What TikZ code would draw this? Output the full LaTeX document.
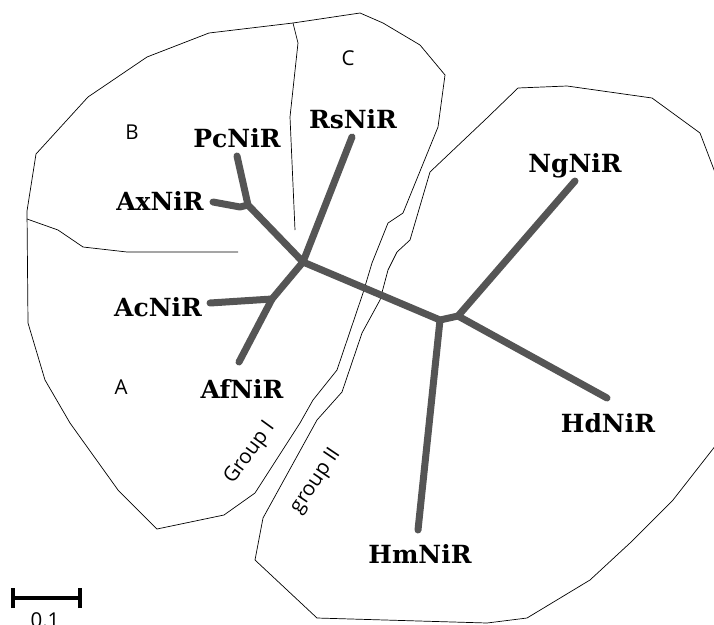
\documentclass[tikz,border=0pt]{standalone}
\usepackage{fontspec}
\newfontfamily\leaffont{DejaVu Serif}
\newfontfamily\zonefont{Open Sans}
\definecolor{tube}{RGB}{85,85,85}

\begin{document}
\begin{tikzpicture}[x=1pt, y=-1pt, line join=round,
    region/.style={line width=0.7pt},
    branch/.style={draw=tube, line width=7pt, line cap=round},
    leaf/.style={font=\leaffont\bfseries\fontsize{25}{25}\selectfont, inner sep=0pt, anchor=base},
    zone/.style={font=\zonefont\fontsize{20.5}{20.5}\selectfont, inner sep=0pt}]
    \useasboundingbox (0,0) rectangle (714,624);

    % group I and its parts
    \draw[region] (209,33) -- (147,57) -- (88,97) -- (36,154) -- (27,211) -- (28,323)
        -- (45,380) -- (70,423) -- (118,490) -- (157,529) -- (224,515) -- (255,493)
        -- (300,423) -- (313,400) -- (337,370) -- (363,293) -- (372,263) -- (388,223)
        -- (403,213) -- (438,127) -- (445,75) -- (420,45) -- (383,23) -- (360,13)
        -- (293,23) -- cycle;
    \draw[region] (293,23) -- (298,43) -- (290,117) -- (295,230);
    \draw[region] (27,219) -- (58,230) -- (83,247) -- (127,252) -- (238,252);

    % group II
    \draw[region] (518,88) -- (567,86) -- (652,98) -- (700,133) -- (716,175) -- (745,300)
        -- (716,445) -- (673,500) -- (630,543) -- (590,580) -- (527,618) -- (487,623)
        -- (317,618) -- (255,560) -- (263,518) -- (317,420) -- (342,392) -- (362,333)
        -- (380,300) -- (388,270) -- (397,252) -- (410,240) -- (430,172) -- (487,118)
        -- cycle;

    % tree
    \coordinate (root) at (303,262);
    \coordinate (pcax) at (248,205);
    \coordinate (acaf) at (272,299);
    \coordinate (hub) at (440,320);
    \coordinate (hubr) at (458,316);
    \coordinate (pc) at (237,156);
    \coordinate (ax) at (213,202);
    \coordinate (rs) at (352,137);
    \coordinate (ac) at (210,303);
    \coordinate (af) at (239,362);
    \coordinate (ng) at (575,181);
    \coordinate (hd) at (607,398);
    \coordinate (hm) at (418,530);
    \draw[branch] (pc) -- (pcax) -- (root) -- (rs);
    \draw[branch] (ax) -- (240,207) -- (pcax);
    \draw[branch] (root) -- (acaf) -- (af);
    \draw[branch] (ac) -- (acaf);
    \draw[branch] (root) -- (hub) -- (hubr) -- (ng);
    \draw[branch] (hubr) -- (hd);
    \draw[branch] (hub) -- (hm);

    \node[leaf] (pcl) at (237,147) {PcNiR};
    \node[leaf] (axl) at (160,210) {AxNiR};
    \node[leaf] (rsl) at (353,128) {RsNiR};
    \node[leaf] (acl) at (158,316) {AcNiR};
    \node[leaf] (afl) at (242,398) {AfNiR};
    \node[leaf] (ngl) at (575,172) {NgNiR};
    \node[leaf] (hdl) at (608,432) {HdNiR};
    \node[leaf] (hml) at (420,563) {HmNiR};

    \node[zone] (za) at (121,387) {A};
    \node[zone] (zb) at (132,132) {B};
    \node[zone] (zc) at (348,58) {C};
    \node[zone, rotate=54] (g1) at (250,453) {Group I};
    \node[zone, rotate=56] (g2) at (316,481) {group II};

    % scale bar
    \coordinate (sbl) at (13,598);
    \coordinate (sbr) at (80,598);
    \draw[line width=4pt] (sbl) -- (sbr);
    \draw[line width=4pt] ([yshift=-10pt]sbl) -- ([yshift=10pt]sbl);
    \draw[line width=4pt] ([yshift=-10pt]sbr) -- ([yshift=10pt]sbr);
    \node[zone, anchor=north] (sbt) at (45,612) {0.1};
\end{tikzpicture}
\end{document}
